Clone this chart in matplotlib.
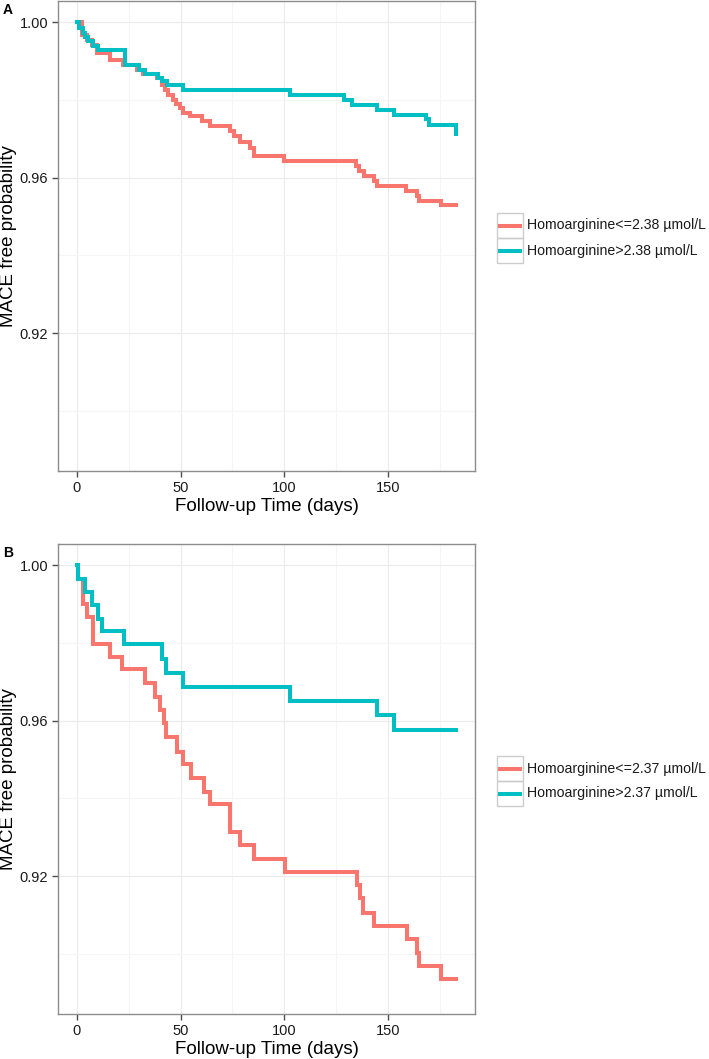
import matplotlib
matplotlib.use("Agg")
import matplotlib.pyplot as plt
from matplotlib.patches import Rectangle
from matplotlib.lines import Line2D

plt.rcParams['font.family'] = ['Liberation Sans', 'DejaVu Sans']

RED = '#F8766D'
TEAL = '#00BFC4'

# Panel A: Kaplan-Meier steps (day, survival)
a_low_days = [0, 2.5, 5, 7.1, 9.5, 16, 22.4, 28.9, 32, 38.5, 41, 42.5, 44, 46.5,
              48, 49.7, 51.4, 54.7, 60.3, 64, 74, 75.6, 78.5, 83.7, 85.3, 99.8,
              134.5, 136.1, 138.5, 143.4, 145, 158.7, 164.3, 165.1, 175.6, 182.9]
a_low_surv = [1.0, 0.9968, 0.9955, 0.9943, 0.9921, 0.9904, 0.9891, 0.9878, 0.9867,
              0.9857, 0.984, 0.9827, 0.9814, 0.9801, 0.979, 0.978, 0.9767, 0.9758,
              0.9745, 0.9733, 0.972, 0.9707, 0.9692, 0.9677, 0.9656, 0.9644, 0.9631,
              0.9618, 0.9605, 0.9592, 0.958, 0.9567, 0.9554, 0.9541, 0.9529, 0.9529]
a_high_days = [0, 1.1, 2.7, 4, 5.5, 7.5, 10, 23.2, 29.7, 32.9, 39.3, 41, 43.4, 51.4,
               103, 128.8, 132.9, 145, 153, 168.4, 170, 182.9]
a_high_surv = [1.0, 0.9985, 0.9973, 0.9962, 0.9951, 0.994, 0.993, 0.9891, 0.9878,
               0.9866, 0.9857, 0.9848, 0.9838, 0.9827, 0.9814, 0.9801, 0.9788, 0.9775,
               0.9762, 0.975, 0.9735, 0.9713]

# Panel B
b_low_days = [0, 0.7, 2.7, 4.7, 7.9, 16, 21.9, 32.9, 37.7, 40.2, 41.8, 43.1, 48.2,
              51, 55, 61.1, 64.3, 74, 78.5, 85.3, 100.3, 135.3, 136.6, 138.2, 143.1,
              159.2, 164.3, 165.1, 175.6, 182.9]
b_low_surv = [1.0, 0.9966, 0.9901, 0.9867, 0.9797, 0.9764, 0.9732, 0.9696, 0.9661,
              0.9627, 0.9593, 0.9559, 0.952, 0.9488, 0.9452, 0.9417, 0.9385, 0.9314,
              0.9281, 0.9245, 0.9211, 0.9177, 0.9143, 0.9106, 0.9071, 0.9037, 0.9003,
              0.8968, 0.8934, 0.8934]
b_high_days = [0, 0.7, 3.9, 7.1, 10.3, 11.9, 22.9, 41, 43.1, 51.1, 103, 145, 153, 182.9]
b_high_surv = [1.0, 0.9966, 0.9931, 0.9897, 0.9863, 0.983, 0.9797, 0.9758, 0.9724,
               0.9687, 0.9652, 0.9615, 0.9576, 0.9576]

x_ticks = [0, 50, 100, 150]
y_ticks = [0.92, 0.96, 1.00]
labels_a = ['Homoarginine<=2.38 µmol/L', 'Homoarginine>2.38 µmol/L']
labels_b = ['Homoarginine<=2.37 µmol/L', 'Homoarginine>2.37 µmol/L']

W, H = 709, 1059
fig = plt.figure(figsize=(W / 100, H / 100), dpi=100)


def fx(px):
    return px / W


def fy(py):
    return 1 - py / H


def panel(top, low, high, labels, letter):
    ax = fig.add_axes([fx(58), fy(top + 470), fx(417), 470 / H])
    ax.step(low[0], low[1], where='post', color=RED, lw=2.9, solid_joinstyle='miter')
    ax.step(high[0], high[1], where='post', color=TEAL, lw=2.9, solid_joinstyle='miter')
    ax.set_xlim(-9.15, 192.05)
    ax.set_ylim(0.8845, 1.0055)
    ax.set_xticks(x_ticks)
    ax.set_xticks([25, 75, 125, 175], minor=True)
    ax.set_yticks(y_ticks)
    ax.set_yticks([0.90, 0.94, 0.98], minor=True)
    ax.set_yticklabels(['%.2f' % v for v in y_ticks])
    ax.grid(True, which='major', color='#ebebeb', lw=0.8)
    ax.grid(True, which='minor', color='#f5f5f5', lw=0.8)
    ax.set_axisbelow(True)
    for s in ax.spines.values():
        s.set_color('#8c8c8c')
        s.set_linewidth(1.0)
    ax.tick_params(which='major', length=4, width=1, color='#4d4d4d',
                   labelsize=10.5, labelcolor='#1a1a1a', pad=3)
    ax.tick_params(which='minor', length=0)
    ax.set_xlabel('Follow-up Time (days)', fontsize=13.5, labelpad=2.5)
    fig.text(fx(9), fy(top + 235), 'MACE free probability', fontsize=13.5,
             rotation=90, ha='center', va='center')
    fig.text(fx(3), fy(top + 9), letter, fontsize=10, fontweight='bold',
             va='center', ha='left')

    # legend keys as in ggplot (grey bordered boxes)
    cols = [RED, TEAL]
    ktop = top + 212
    for i, (lab, c) in enumerate(zip(labels, cols)):
        y0 = ktop + i * 25
        fig.patches.append(Rectangle((fx(497), fy(y0 + 25)), fx(26), 25 / H,
                                     transform=fig.transFigure, fill=False,
                                     edgecolor='#cccccc', lw=1.0))
        fig.lines.append(Line2D([fx(500), fx(520)], [fy(y0 + 12.5)] * 2,
                                transform=fig.transFigure, color=c, lw=2.9))
        fig.text(fx(527), fy(y0 + 12.5), lab, fontsize=10.2, va='center',
                 ha='left', color='#1a1a1a')
    return ax


panel(1, (a_low_days, a_low_surv), (a_high_days, a_high_surv), labels_a, 'A')
panel(544, (b_low_days, b_low_surv), (b_high_days, b_high_surv), labels_b, 'B')

fig.savefig('out.png', dpi=100)
